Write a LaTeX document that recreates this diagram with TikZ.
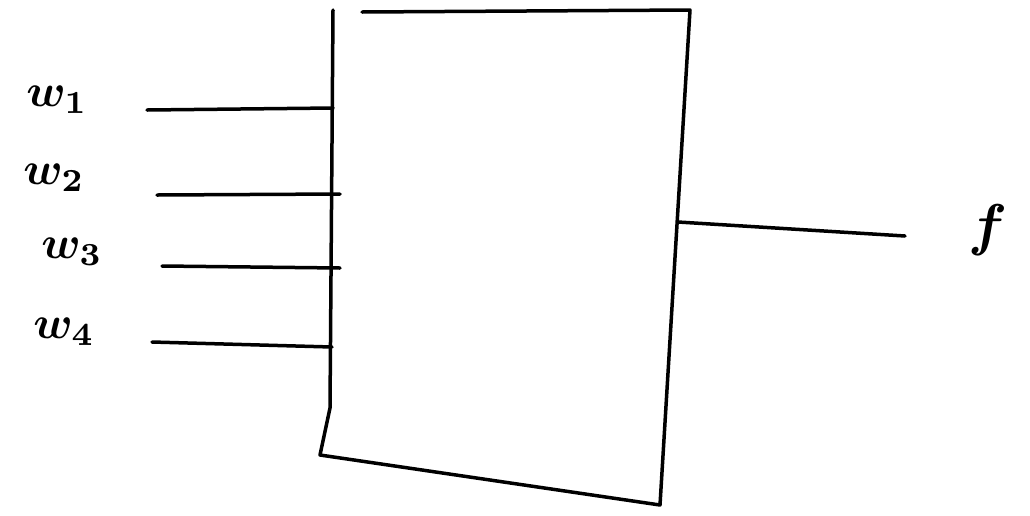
\documentclass[tikz,border=0pt]{standalone}
\begin{document}
\begin{tikzpicture}[x=1pt,y=-1pt,
  ink/.style={line width=3.5pt,line cap=round,line join=round,black},
  lbl/.style={inner sep=0pt,scale=4.6,font=\boldmath}]
\useasboundingbox (0,0) rectangle (1030,515);
% box
\coordinate (tl) at (333,10);
\coordinate (lm) at (330,408);
\coordinate (bl) at (320,455);
\coordinate (br) at (660,505);
\coordinate (tr) at (690,10);
\coordinate (tt) at (362,12);
\draw[ink] (tl) -- (lm) -- (bl) -- (br) -- (tr) -- (tt);
% inputs
\node[lbl] (w1) at (57,100) {$w_1$};
\node[lbl] (w2) at (54,178) {$w_2$};
\node[lbl] (w3) at (72,252) {$w_3$};
\node[lbl] (w4) at (64,332) {$w_4$};
\coordinate (a1) at (147,110); \coordinate (b1) at (333,108);
\coordinate (a2) at (157,195); \coordinate (b2) at (340,194);
\coordinate (a3) at (162,266); \coordinate (b3) at (340,268);
\coordinate (a4) at (152,342); \coordinate (b4) at (332,347);
\draw[ink] (a1) -- (b1);
\draw[ink] (a2) -- (b2);
\draw[ink] (a3) -- (b3);
\draw[ink] (a4) -- (b4);
% output
\coordinate (o1) at (678,222); \coordinate (o2) at (905,236);
\draw[ink] (o1) -- (o2);
\node[lbl,scale=1.25] (f) at (988,230) {$f$};
\end{tikzpicture}
\end{document}
